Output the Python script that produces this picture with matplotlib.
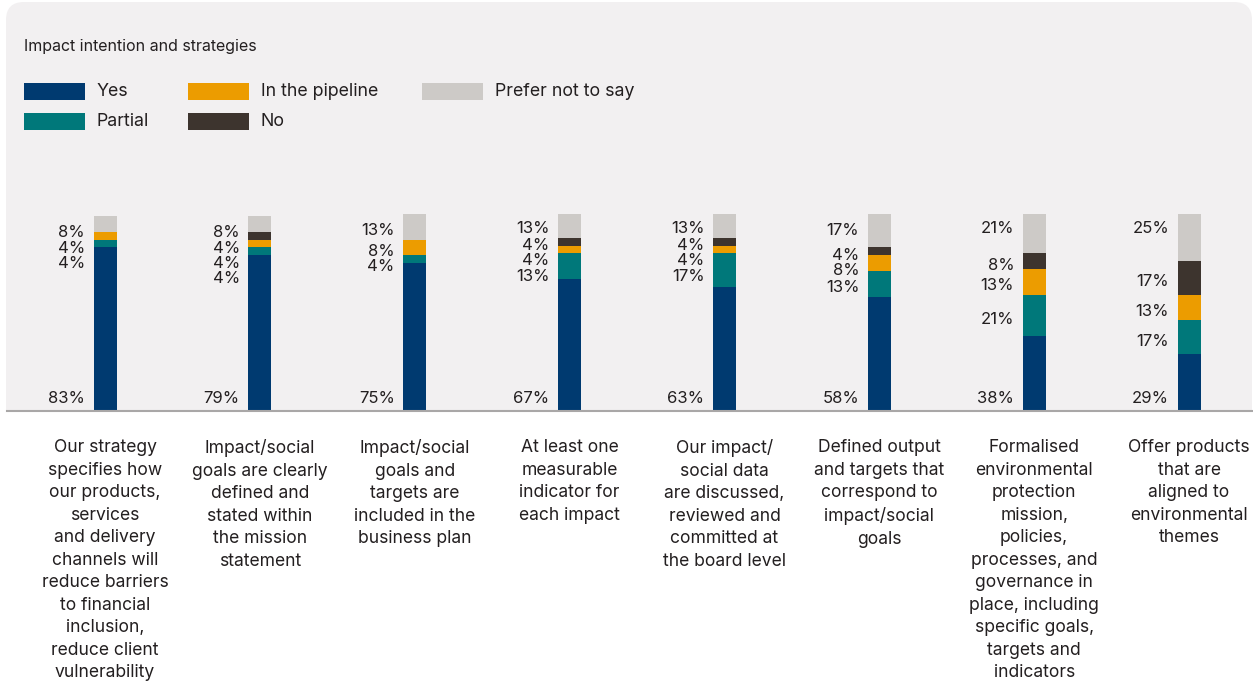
"""
Impact intention and strategies - stacked bar chart.
"""

import matplotlib.pyplot as plt
from matplotlib.patches import FancyBboxPatch, Rectangle

plt.rcParams["font.family"] = ["Inter", "DejaVu Sans"]

categories = [
    "Our strategy\nspecifies how\nour products,\nservices\nand delivery\nchannels will\nreduce barriers\nto financial\ninclusion,\nreduce client\nvulnerability",
    "Impact/social\ngoals are clearly\ndefined and\nstated within\nthe mission\nstatement",
    "Impact/social\ngoals and\ntargets are\nincluded in the\nbusiness plan",
    "At least one\nmeasurable\nindicator for\neach impact",
    "Our impact/\nsocial data\nare discussed,\nreviewed and\ncommitted at\nthe board level",
    "Defined output\nand targets that\ncorrespond to\nimpact/social\ngoals",
    "Formalised\nenvironmental\nprotection\nmission,\npolicies,\nprocesses, and\ngovernance in\nplace, including\nspecific goals,\ntargets and\nindicators",
    "Offer products\nthat are\naligned to\nenvironmental\nthemes",
]

series_names = ["Yes", "Partial", "In the pipeline", "No", "Prefer not to say"]
yes = [83, 79, 75, 67, 63, 58, 38, 29]
partial = [4, 4, 4, 13, 17, 13, 21, 17]
pipeline = [4, 4, 8, 4, 4, 8, 13, 13]
no = [0, 4, 0, 4, 4, 4, 8, 17]
prefer = [8, 8, 13, 13, 13, 17, 21, 25]

colors = ["#003a70", "#00787a", "#ec9c00", "#3d342e", "#cdcac7"]
text_color = "#231f20"

W, H = 1253, 682
fig = plt.figure(figsize=(W / 100, H / 100), dpi=100)
fig.patch.set_facecolor("white")


def fx(px):
    return px / W


def fy(py):
    return 1 - py / H


# rounded background panel, cut at the baseline
panel = FancyBboxPatch(
    (fx(6), fy(460)), fx(1246), 458 / H,
    boxstyle="round,pad=0,rounding_size=%f" % fx(18),
    mutation_aspect=W / H,
    transform=fig.transFigure, facecolor="#f2f0f1", edgecolor="none", zorder=0,
)
fig.patches.append(panel)
fig.patches.append(Rectangle((0, 0), 1, fy(411), transform=fig.transFigure,
                             facecolor="white", edgecolor="none", zorder=0.5))

fig.text(fx(24), fy(46), "Impact intention and strategies", fontsize=11.5,
         color=text_color, va="center", ha="left")

# legend
legend_pos = [(24, 91), (24, 121), (188, 91), (188, 121), (422, 91)]
for k, (lx, ly) in enumerate(legend_pos):
    fig.patches.append(Rectangle((fx(lx), fy(ly + 8.5)), fx(61), 17 / H,
                                 transform=fig.transFigure,
                                 facecolor=colors[k], edgecolor="none"))
    fig.text(fx(lx + 73), fy(ly + 1), series_names[k], fontsize=12.8,
             color=text_color, va="center", ha="left")

ax = fig.add_axes([fx(7), fy(411), fx(1246), 197 / H])
ax.set_facecolor("none")
ax.set_zorder(2)

n = len(categories)
x = list(range(n))
bar_w = 0.1485
series = [yes, partial, pipeline, no, prefer]
bottom = [0] * n
for vals, col in zip(series, colors):
    ax.bar(x, vals, bottom=bottom, width=bar_w, color=col, linewidth=0)
    bottom = [b + v for b, v in zip(bottom, vals)]

ax.set_xlim(-0.633, 7.413)
ax.set_ylim(0, 100)
for s in ["top", "right", "left"]:
    ax.spines[s].set_visible(False)
ax.spines["bottom"].set_color("#a9a7a7")
ax.spines["bottom"].set_linewidth(1.5)
ax.set_xticks([])
ax.set_yticks([])

# percentage labels
label_x_off = bar_w / 2 + 0.055
min_gap = 7.8
for i in range(n):
    lx = i - label_x_off
    ax.text(lx, 6.1, f"{yes[i]}%", ha="right", va="center", fontsize=12,
            color=text_color)
    # from top segment downwards, avoiding overlap
    segs = []
    base = yes[i]
    for vals in series[1:]:
        segs.append((vals[i], base + vals[i] / 2))
        base += vals[i]
    total = base
    prev = None
    for j in range(len(segs) - 1, -1, -1):
        v, c = segs[j]
        if v == 0:
            continue
        if prev is None:
            y = total - 8.5
        else:
            y = min(c - 2, prev - min_gap)
        ax.text(lx, y, f"{v}%", ha="right", va="center", fontsize=12,
                color=text_color)
        prev = y

# category labels
for i, cat in enumerate(categories):
    ax.text(i, -14.4, cat, ha="center", va="top", fontsize=12.6,
            color=text_color, linespacing=1.42, clip_on=False)

fig.savefig("out.png", dpi=100, facecolor="white")
